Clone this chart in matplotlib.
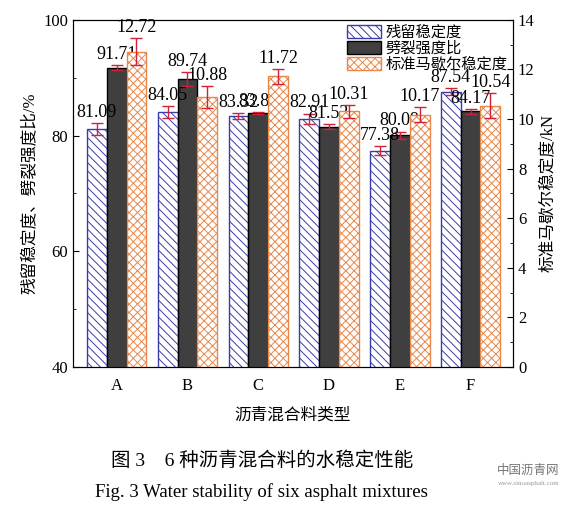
import matplotlib.pyplot as plt
import numpy as np

plt.rcParams['font.family'] = ['Liberation Serif', 'Noto Sans CJK SC']
plt.rcParams['hatch.linewidth'] = 0.7

# data
mixes = ['A', 'B', 'C', 'D', 'E', 'F']
residual = [81.09, 84.05, 83.32, 82.91, 77.38, 87.54]
residual_err = [1.0, 1.0, 0.5, 0.9, 0.8, 0.6]
split = [91.71, 89.74, 83.89, 81.52, 80.09, 84.17]
split_err = [0.4, 1.2, 0.2, 0.4, 0.6, 0.4]
marshall = [12.72, 10.88, 11.72, 10.31, 10.17, 10.54]
marshall_err = [0.55, 0.45, 0.3, 0.25, 0.3, 0.5]

names = ['残留稳定度', '劈裂强度比', '标准马歇尔稳定度']

fig = plt.figure(figsize=(5.87, 5.09), dpi=100)
ax = fig.add_axes([0.124, 0.279, 0.75, 0.682])
ax2 = ax.twinx()

x = np.arange(len(mixes))
w = 0.28
red = '#d0203a'
ekw = dict(ecolor=red, elinewidth=1, capsize=4, capthick=1)

b1 = ax.bar(x - w, residual, w, yerr=residual_err, color='white', edgecolor='#3c3ca8',
            hatch='\\\\\\\\', linewidth=1, error_kw=ekw, zorder=2)
b2 = ax.bar(x, split, w, yerr=split_err, color='#3f3f3f', edgecolor='black',
            linewidth=1, error_kw=ekw, zorder=2)
b3 = ax2.bar(x + w, marshall, w, yerr=marshall_err, color='white', edgecolor='#e8884a',
             hatch='xxxx', linewidth=1, error_kw=ekw, zorder=2)

for i in range(len(mixes)):
    ax.text(x[i] - w, residual[i] + residual_err[i] + 0.4, '%.2f' % residual[i],
            ha='center', va='bottom', fontsize=13)
    ax.text(x[i], split[i] + split_err[i] + 0.4, '%.2f' % split[i],
            ha='center', va='bottom', fontsize=13)
    ax2.text(x[i] + w, marshall[i] + marshall_err[i] + 0.08, '%.2f' % marshall[i],
             ha='center', va='bottom', fontsize=13)

ax.set_xlim(-0.62, 5.6)
ax.set_ylim(40, 100)
ax2.set_ylim(0, 14)
ax.set_xticks(x)
ax.set_xticklabels(mixes)
ax.set_yticks([40, 60, 80, 100])
ax.set_yticks([50, 70, 90], minor=True)
ax2.set_yticks(np.arange(0, 15, 2))
ax2.set_yticks(np.arange(1, 14, 2), minor=True)
ax.tick_params(direction='in', labelsize=12, length=4)
ax.tick_params(which='minor', direction='in', length=2.5)
ax2.tick_params(direction='in', labelsize=12, length=4)
ax2.tick_params(which='minor', direction='in', length=2.5)
ax.tick_params(axis='x', pad=8)

ax.set_xlabel('沥青混合料类型', fontsize=12, labelpad=10)
ax.set_ylabel('残留稳定度、劈裂强度比/%', fontsize=12)
ax2.set_ylabel('标准马歇尔稳定度/kN', fontsize=12)

ax2.legend([b1, b2, b3], names, loc='upper right', frameon=False, fontsize=11,
           handlelength=2.2, handleheight=0.9, borderaxespad=0.15, labelspacing=0.1,
           handletextpad=0.3, borderpad=0.2)

fig.text(0.446, 0.094, '图 3　6 种沥青混合料的水稳定性能', ha='center', va='center', fontsize=14)
fig.text(0.446, 0.034, 'Fig. 3 Water stability of six asphalt mixtures', ha='center',
         va='center', fontsize=13.5)
fig.text(0.9, 0.075, '中国沥青网', ha='center', va='center', fontsize=9, color='#777777')
fig.text(0.9, 0.05, 'www.sinoasphalt.com', ha='center', va='center', fontsize=5,
         color='#999999')

fig.savefig('out.png', dpi=100)
